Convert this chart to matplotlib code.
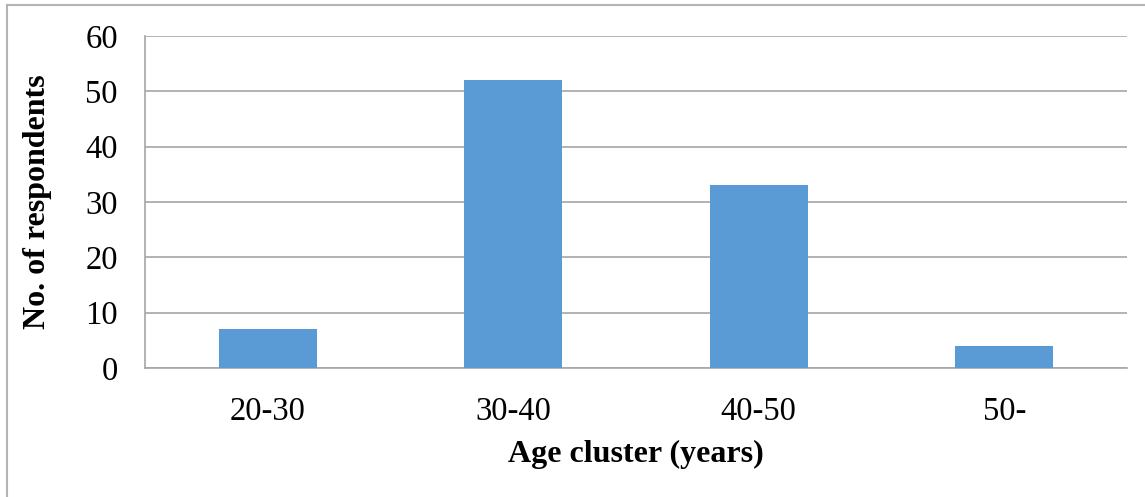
import matplotlib
matplotlib.use('Agg')
import matplotlib.pyplot as plt
from matplotlib.lines import Line2D

categories = ['20-30', '30-40', '40-50', '50-']
respondents = [7, 52, 33, 4]
y_ticks = [0, 10, 20, 30, 40, 50, 60]

plt.rcParams['font.family'] = ['Liberation Serif', 'DejaVu Serif']

fig = plt.figure(figsize=(11.45, 4.97), dpi=100)
ax = fig.add_axes([145 / 1145, 1 - 368 / 497, (1127 - 145) / 1145, (368 - 36) / 497])

x = range(len(categories))
ax.bar(x, respondents, width=0.4, color='#5B9BD5', zorder=3)

ax.set_xlim(-0.5, len(categories) - 0.5)
ax.set_ylim(0, 60)
ax.set_yticks(y_ticks)
ax.set_xticks(list(x))
ax.set_xticklabels(categories)
ax.tick_params(axis='both', length=0, labelsize=23.5)
ax.tick_params(axis='y', pad=19.5)
ax.tick_params(axis='x', pad=20.5)

ax.grid(axis='y', color='#A6A6A6', linewidth=1.2, zorder=0)
for side in ['top', 'right']:
    ax.spines[side].set_visible(False)
for side in ['left', 'bottom']:
    ax.spines[side].set_color('#A6A6A6')
    ax.spines[side].set_linewidth(1.2)

ax.set_xlabel('Age cluster (years)', fontsize=23, fontweight='bold', labelpad=9)
ax.set_ylabel('No. of respondents', fontsize=23, fontweight='bold', labelpad=24)

# outer chart frame (only left and top edges are visible in the crop)
fig.add_artist(Line2D([6.5 / 1145, 6.5 / 1145], [0, 1 - 5 / 497], transform=fig.transFigure,
                      color='#B4B4B4', linewidth=1.5))
fig.add_artist(Line2D([6.5 / 1145, 1], [1 - 5 / 497, 1 - 5 / 497], transform=fig.transFigure,
                      color='#B4B4B4', linewidth=1.5))

fig.savefig('out.png', dpi=100)
